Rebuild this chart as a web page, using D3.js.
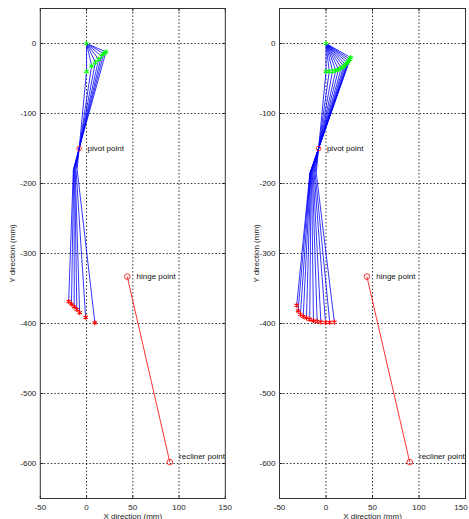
<!DOCTYPE html>
<html>
<head>
<meta charset="utf-8">
<script src="https://cdn.jsdelivr.net/npm/d3@7/dist/d3.min.js"></script>
<style>
  html, body { margin: 0; padding: 0; background: #fff; }
  svg { display: block; }
  text { font-family: "Liberation Sans", Arial, sans-serif; }
</style>
</head>
<body>
<svg id="chart" width="469" height="519"></svg>
<script>
// ---------- data ----------
const xTicks = [-50, 0, 50, 100, 150];
const yTicks = [-600, -500, -400, -300, -200, -100, 0];
const xDomain = [-50, 150];
const yDomain = [-650, 50];

const topPoint = [0, 0];
const pivotPoint = [-8, -150];
const hingePoint = [44, -333];
const reclinerPoint = [90, -598];

// left panel configurations
const leftGreenX = [0, 5.5, 9.5, 13, 16, 18.5, 21];
const leftGreenY = [-40, -32, -27, -22.5, -18, -14.5, -12];
const leftKneeX  = [-10.2, -11.4, -12.3, -12.9, -13.5, -13.9, -14.3];
const leftKneeY  = [-180, -180, -180, -180, -180, -180, -180];
const leftRedX   = [9, -1, -7.5, -10.5, -13.3, -16.3, -19.3];
const leftRedY   = [-399, -391, -384.5, -380, -376, -372, -368.5];

// right panel configurations
const rightGreenX = [0, 3.5, 7, 10.5, 13.5, 16.5, 19, 21, 22.8, 24.3, 25.5, 26.5];
const rightGreenY = [-40, -40, -39.5, -38.5, -37, -35, -32.5, -30, -27.5, -25, -22.5, -20];
const rightKneeX  = [-10.5, -11.7, -12.8, -13.8, -14.7, -15.5, -16, -16.5, -16.8, -17, -17.2, -17.3];
const rightKneeY  = [-185, -185, -185, -185, -185, -185, -185, -185, -185, -185, -185, -185];
const rightRedX   = [9, 4, -0.5, -5.5, -9.5, -13.5, -17.5, -21, -24.5, -27.5, -30, -31.5];
const rightRedY   = [-398, -398.5, -398.5, -398, -397, -396, -394, -392, -390, -387, -382, -374];

const labels = [
  { text: "pivot point", x: 1, y: -150 },
  { text: "hinge point", x: 54, y: -333 },
  { text: "recliner point", x: 100, y: -589 }
];

// ---------- drawing ----------
const svg = d3.select("#chart");
const W = 469;
const panels = [
  { x0: 40.3, x1: 225.3, gx: leftGreenX, gy: leftGreenY, kx: leftKneeX, ky: leftKneeY, rx: leftRedX, ry: leftRedY, ylabX: 12 },
  { x0: 279.5, x1: 465.5, gx: rightGreenX, gy: rightGreenY, kx: rightKneeX, ky: rightKneeY, rx: rightRedX, ry: rightRedY, ylabX: 256 }
];
const yTop = 8.5, yBot = 498.5;

panels.forEach(p => {
  const x = d3.scaleLinear().domain(xDomain).range([p.x0, p.x1]);
  const y = d3.scaleLinear().domain(yDomain).range([yBot, yTop]);
  const g = svg.append("g");

  // grid
  g.selectAll(".gx").data(xTicks.slice(1, -1)).join("line")
    .attr("x1", d => x(d)).attr("x2", d => x(d)).attr("y1", yTop).attr("y2", yBot)
    .attr("stroke", "#000").attr("stroke-width", 0.8).attr("stroke-dasharray", "1.5,2");
  g.selectAll(".gy").data(yTicks).join("line")
    .attr("x1", p.x0).attr("x2", p.x1).attr("y1", d => y(d)).attr("y2", d => y(d))
    .attr("stroke", "#000").attr("stroke-width", 0.8).attr("stroke-dasharray", "1.5,2");

  // ticks (inward)
  xTicks.forEach(t => {
    g.append("line").attr("x1", x(t)).attr("x2", x(t)).attr("y1", yBot).attr("y2", yBot - 3).attr("stroke", "#000").attr("stroke-width", 0.8);
    g.append("line").attr("x1", x(t)).attr("x2", x(t)).attr("y1", yTop).attr("y2", yTop + 3).attr("stroke", "#000").attr("stroke-width", 0.8);
  });
  yTicks.forEach(t => {
    g.append("line").attr("x1", p.x0).attr("x2", p.x0 + 3).attr("y1", y(t)).attr("y2", y(t)).attr("stroke", "#000").attr("stroke-width", 0.8);
    g.append("line").attr("x1", p.x1).attr("x2", p.x1 - 3).attr("y1", y(t)).attr("y2", y(t)).attr("stroke", "#000").attr("stroke-width", 0.8);
  });

  // box
  g.append("rect").attr("x", p.x0).attr("y", yTop).attr("width", p.x1 - p.x0).attr("height", yBot - yTop)
    .attr("fill", "none").attr("stroke", "#333").attr("stroke-width", 1);

  // tick labels (kept inside the window)
  g.selectAll(".xl").data(xTicks).join("text")
    .attr("x", d => Math.min(x(d), W - 8)).attr("y", yBot + 11).attr("text-anchor", "middle")
    .attr("font-size", 8).attr("fill", "#222").text(d => d);
  g.selectAll(".yl").data(yTicks).join("text")
    .attr("x", p.x0 - 4).attr("y", d => y(d)).attr("dy", "0.35em").attr("text-anchor", "end")
    .attr("font-size", 8).attr("fill", "#222").text(d => d);

  // axis titles
  g.append("text").attr("x", (p.x0 + p.x1) / 2).attr("y", 518.5).attr("text-anchor", "middle")
    .attr("font-size", 8).attr("fill", "#222").text("X direction (mm)");
  g.append("text").attr("transform", `translate(${p.ylabX},${(yTop + yBot) / 2}) rotate(-90)`)
    .attr("dy", "0.35em").attr("text-anchor", "middle")
    .attr("font-size", 8).attr("fill", "#222").text("Y direction (mm)");

  // linkage lines
  const line = d3.line().x(d => x(d[0])).y(d => y(d[1]));
  const n = p.gx.length;
  const configs = d3.range(n).map(i => [topPoint, [p.gx[i], p.gy[i]], [p.kx[i], p.ky[i]], [p.rx[i], p.ry[i]]]);
  g.selectAll(".cfg").data(configs).join("path")
    .attr("d", line).attr("fill", "none").attr("stroke", "#0000ff").attr("stroke-width", 0.8);

  // hinge-recliner
  g.append("path").attr("d", line([hingePoint, reclinerPoint]))
    .attr("fill", "none").attr("stroke", "#ff0000").attr("stroke-width", 0.8);

  const star = d3.symbol().type(d3.symbolAsterisk).size(18);
  // green markers
  g.append("path").attr("d", star).attr("transform", `translate(${x(topPoint[0])},${y(topPoint[1])})`)
    .attr("fill", "none").attr("stroke", "#00ff00").attr("stroke-width", 1);
  g.selectAll(".gm").data(d3.range(n)).join("path")
    .attr("d", star).attr("transform", i => `translate(${x(p.gx[i])},${y(p.gy[i])})`)
    .attr("fill", "none").attr("stroke", "#00ff00").attr("stroke-width", 1.1);
  // red markers
  g.selectAll(".rm").data(d3.range(n)).join("path")
    .attr("d", star).attr("transform", i => `translate(${x(p.rx[i])},${y(p.ry[i])})`)
    .attr("fill", "none").attr("stroke", "#ff0000").attr("stroke-width", 1.1);

  // circles
  g.append("circle").attr("cx", x(pivotPoint[0])).attr("cy", y(pivotPoint[1])).attr("r", 2.3)
    .attr("fill", "none").attr("stroke", "#ff0000").attr("stroke-width", 0.8);
  [hingePoint, reclinerPoint].forEach(pt => {
    g.append("circle").attr("cx", x(pt[0])).attr("cy", y(pt[1])).attr("r", 2.8)
      .attr("fill", "none").attr("stroke", "#ff0000").attr("stroke-width", 0.8);
  });

  // labels
  g.selectAll(".lab").data(labels).join("text")
    .attr("x", d => x(d.x)).attr("y", d => y(d.y)).attr("dy", "0.35em")
    .attr("font-size", 8).attr("fill", "#111").text(d => d.text);
});
</script>
</body>
</html>
